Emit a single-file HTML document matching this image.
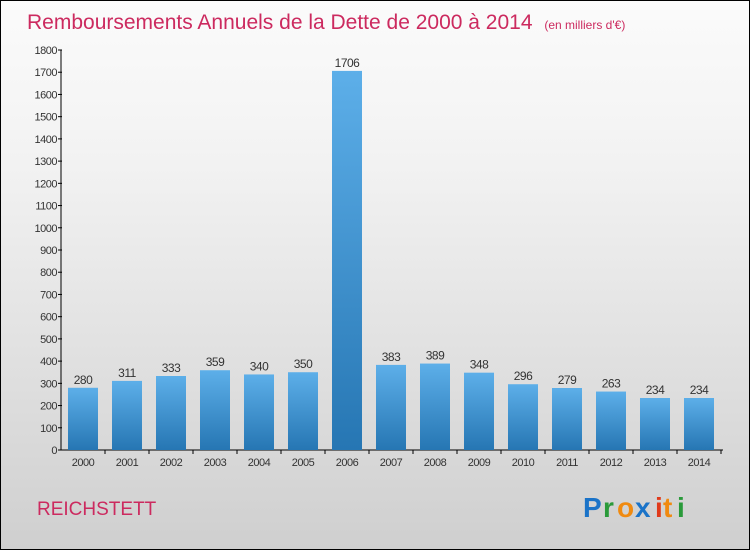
<!DOCTYPE html>
<html><head><meta charset="utf-8"><style>
body{margin:0}
#c{width:748px;height:548px;border:1px solid #000;background:linear-gradient(#fbfbfb,#f2f2f2 30%,#cfcfcf);position:relative;font-family:"Liberation Sans",sans-serif;overflow:hidden}
</style></head><body>
<div id="c">
<svg id="s" width="748" height="548">
<defs><linearGradient id="g" x1="0" y1="0" x2="0" y2="1"><stop offset="0" stop-color="#5dafe9"/><stop offset="1" stop-color="#2676b3"/></linearGradient></defs>
<text x="26" y="28" font-size="21" fill="#cc2a5f">Remboursements Annuels de la Dette de 2000 à 2014 <tspan font-size="12" dx="6">(en milliers d'€)</tspan></text>
<text x="36" y="514" font-size="19" fill="#cc2a5f">REICHSTETT</text>
<g font-size="28" font-family="'Liberation Sans',sans-serif" font-weight="bold">
<text x="582" y="516" fill="#1a73c8">P</text><text x="602" y="516" fill="#2a9a3a">r</text><text x="616" y="516" fill="#f08a10">o</text><text x="634" y="516" fill="#1a73c8">x</text><text x="654" y="516" fill="#e03a1a">i</text><text x="662" y="516" fill="#f08a10">t</text><text x="676" y="516" fill="#2a9a3a">i</text></g>
<g id="axes"></g><g id="bars"></g>
</svg></div>
<script>
const categories=["2000","2001","2002","2003","2004","2005","2006","2007","2008","2009","2010","2011","2012","2013","2014"];
const values=[280,311,333,359,340,350,1706,383,389,348,296,279,263,234,234];
const yTicks=[0,100,200,300,400,500,600,700,800,900,1000,1100,1200,1300,1400,1500,1600,1700,1800];
const NS="http://www.w3.org/2000/svg";
const y=v=>449-v*400/1800;
const x=i=>82+i*44;
function mk(t,a,p){const e=document.createElementNS(NS,t);for(const k in a)e.setAttribute(k,a[k]);p.appendChild(e);return e;}
const ax=document.getElementById('axes'),bg=document.getElementById('bars');
const yl=mk('line',{x1:60,x2:60,y1:y(1800),y2:y(0),stroke:'#000'},ax);


const xl=mk('line',{x1:60,x2:722,y1:y(0),y2:y(0),stroke:'#000'},ax);


yTicks.forEach(t=>{
 mk('line',{x1:57,x2:61,y1:y(t),y2:y(t),stroke:'#000'},ax);
 const tx=mk('text',{x:56,y:y(t)+4,'font-size':11,'text-anchor':'end',fill:'#333','letter-spacing':'-0.5'},ax);
 tx.textContent=t;
 
 
});
categories.forEach((c,i)=>{
 const r=mk('rect',{x:x(i)-15,y:y(values[i]),width:30,height:y(0)-y(values[i]),fill:'url(#g)'},bg);
 
 
 const v=mk('text',{x:x(i),y:y(values[i])-4,'font-size':12,'text-anchor':'middle',fill:'#333','letter-spacing':'-0.5'},bg);
 v.textContent=values[i];
 
 
 mk('line',{x1:x(i)+22,x2:x(i)+22,y1:y(0),y2:y(0)+4,stroke:'#000'},ax);
 const l=mk('text',{x:x(i),y:y(0)+16,'font-size':11,'text-anchor':'middle',fill:'#333','letter-spacing':'-0.5'},ax);
 l.textContent=c;
 
 
});
</script>
</body></html>
